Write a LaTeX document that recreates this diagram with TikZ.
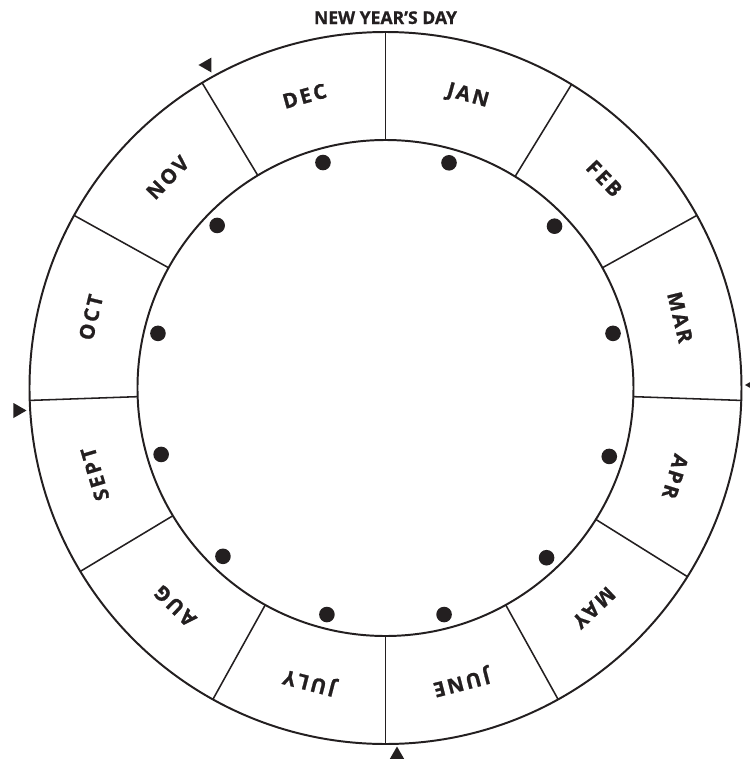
\documentclass[tikz,border=0pt]{standalone}
\usepackage{fontspec}
\setmainfont{Open Sans}[BoldFeatures={FakeBold=0.8}]
\newfontfamily\monfont{Open Sans}[LetterSpace=12,BoldFeatures={FakeBold=1}]
\usetikzlibrary{calc}
\definecolor{inkx}{HTML}{231F20}
\tikzset{
  rim/.style={draw=inkx,line width=1.4pt},
  sep/.style={draw=inkx,line width=1.1pt},
  mon/.style={font=\monfont\bfseries\fontsize{14.5}{16}\selectfont,text=inkx,inner sep=0pt},
  dot/.style={circle,fill=inkx,minimum size=0.39cm,inner sep=0pt},
  tri/.style={fill=inkx}
}
\begin{document}
\begin{tikzpicture}[x=0.025cm,y=0.025cm]
\useasboundingbox (-385.5,-371) rectangle (364.5,388);
% rings
\draw[rim] (0,0) circle[radius=356];
\draw[rim] (0,0) circle[radius=248];
% month dividers
\foreach \a in {0,31.5,61,92,122,151,180,209,239,268,299,329}{\draw[sep] (90-\a:248) -- (90-\a:356);}
% months and dots
\foreach \m/\t [count=\i] in {JAN/15.75,FEB/46.25,MAR/76.5,APR/107,MAY/136.5,JUNE/165.5,JULY/194.5,AUG/224,SEPT/253.5,OCT/283.5,NOV/314,DEC/344.5}{
  \node[mon,rotate=-\t] (m\i) at (90-\t:303) {\m};
  \node[dot] (d\i) at (90-\t:234) {};
}
\node[font=\bfseries\fontsize{12.5}{14}\selectfont,text=inkx,anchor=base,inner sep=0pt] (ny) at (0,364) {NEW YEAR’S DAY};
% markers
\foreach \x/\y/\r in {-180.5/323/180,-365.5/-22.5/0,366/3/180,11.5/-365/90}{
  \fill[tri,shift={(\x,\y)},rotate=\r] (6.5,0) -- (-6.5,7.5) -- (-6.5,-7.5) -- cycle;
}
\end{tikzpicture}
\end{document}
